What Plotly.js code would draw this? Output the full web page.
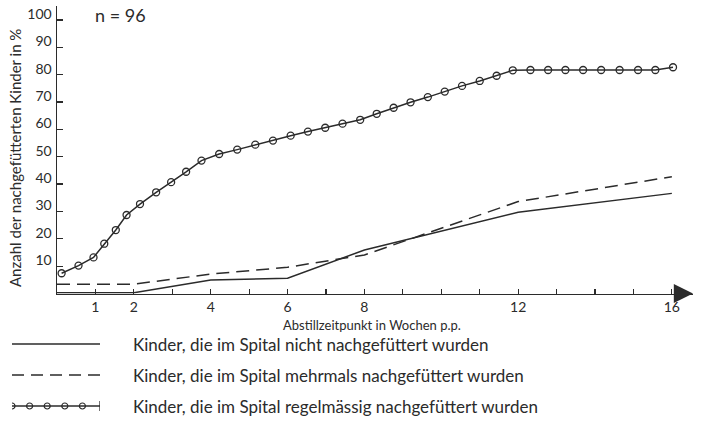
<!DOCTYPE html>
<html>
<head>
<meta charset="utf-8">
<script src="https://cdn.plot.ly/plotly-3.0.1.min.js"></script>
<style>html,body{margin:0;padding:0;background:#fff;}#chart{width:707px;height:439px;}</style>
</head>
<body>
<div id="chart"></div>
<script>
// ---- data ----
const seriesNames = [
  "Kinder, die im Spital nicht nachgefüttert wurden",
  "Kinder, die im Spital mehrmals nachgefüttert wurden",
  "Kinder, die im Spital regelmässig nachgefüttert wurden"
];
const weeksNicht = [0, 2, 4, 6, 8, 12, 16];
const valuesNicht = [0.3, 0.3, 4.9, 5.6, 15.9, 29.7, 36.6];
const weeksMehrmals = [0, 2, 4, 6, 8, 12, 16];
const valuesMehrmals = [3.4, 3.4, 7.1, 9.6, 14.1, 33.6, 42.7];
const weeksRegel = [0.12, 0.56, 0.95, 1.23, 1.53, 1.81, 2.16, 2.58, 2.97, 3.36, 3.76, 4.22, 4.69, 5.16, 5.62, 6.08, 6.53, 6.98, 7.43, 7.89, 8.32, 8.76, 9.20, 9.65, 10.09, 10.54, 11.0, 11.44, 11.86, 12.32, 12.78, 13.23, 13.69, 14.16, 14.64, 15.12, 15.57, 16.03];
const valuesRegel = [7.4, 10.2, 13.2, 18.2, 23.2, 28.7, 32.7, 37.0, 40.7, 44.5, 48.6, 51.0, 52.6, 54.4, 55.9, 57.7, 59.2, 60.6, 62.1, 63.5, 65.7, 67.9, 69.9, 71.8, 73.8, 75.9, 77.7, 79.6, 81.6, 81.7, 81.7, 81.7, 81.7, 81.7, 81.7, 81.7, 81.7, 82.7];
const xTickVals = [1, 2, 3, 4, 5, 6, 7, 8, 9, 10, 11, 12, 13, 14, 15, 16];
const xTickText = ["1", "2", "", "4", "", "6", "", "8", "", "", "", "12", "", "", "", "16"];
const yTickVals = [10, 20, 30, 40, 50, 60, 70, 80, 90, 100];
const xTitle = "Abstillzeitpunkt in Wochen p.p.";
const yTitle = "Anzahl der nachgefütterten Kinder in %";
const sampleNote = "n = 96";

// ---- layout helpers ----
const W = 707, H = 439;
const px = v => v / W;           // pixel -> paper x
const py = v => (H - v) / H;     // pixel -> paper y
const INK = '#2b2b2b';
const FONT = 'Lato, "Open Sans", sans-serif';

const xRange = [0, 16.55];
const yRange = [0, 105.1];

const traces = [
  {x: weeksNicht, y: valuesNicht, name: seriesNames[0], mode: 'lines',
   line: {color: INK, width: 1.5}, xaxis: 'x', yaxis: 'y', showlegend: false, cliponaxis: false},
  {x: weeksMehrmals, y: valuesMehrmals, name: seriesNames[1], mode: 'lines',
   line: {color: INK, width: 1.5, dash: '13px,7px'}, xaxis: 'x', yaxis: 'y', showlegend: false, cliponaxis: false},
  {x: weeksRegel, y: valuesRegel, name: seriesNames[2], mode: 'lines+markers',
   line: {color: INK, width: 1.5},
   marker: {symbol: 'circle-open', size: 7, color: INK, line: {width: 1.3, color: INK}},
   xaxis: 'x', yaxis: 'y', showlegend: false, cliponaxis: false},
  // legend key samples (drawn in a small key subplot)
  {x: [0, 1], y: [1, 1], mode: 'lines', line: {color: INK, width: 1.5},
   xaxis: 'x2', yaxis: 'y2', showlegend: false, hoverinfo: 'skip'},
  {x: [0, 1], y: [2, 2], mode: 'lines', line: {color: INK, width: 1.5, dash: '12px,7px'},
   xaxis: 'x2', yaxis: 'y2', showlegend: false, hoverinfo: 'skip'},
  {x: [0, 0.2, 0.4, 0.6, 0.8], y: [3, 3, 3, 3, 3], mode: 'markers',
   marker: {symbol: 'circle-open', size: 6, color: INK, line: {width: 1.2, color: INK}},
   xaxis: 'x2', yaxis: 'y2', showlegend: false, hoverinfo: 'skip'},
  {x: [0, 1], y: [3, 3], mode: 'lines', line: {color: INK, width: 1.5},
   xaxis: 'x2', yaxis: 'y2', showlegend: false, hoverinfo: 'skip'},
  {x: [1], y: [3], mode: 'markers',
   marker: {symbol: 'line-ns-open', size: 7, color: INK, line: {width: 1.3, color: INK}},
   xaxis: 'x2', yaxis: 'y2', showlegend: false, hoverinfo: 'skip'}
];

const annotations = [
  {xref: 'paper', yref: 'paper', x: px(93), y: py(15), xanchor: 'left', yanchor: 'middle',
   text: sampleNote, showarrow: false, font: {family: FONT, size: 18, color: INK}},
  {xref: 'paper', yref: 'paper', x: px(372), y: py(325), xanchor: 'center', yanchor: 'middle',
   text: xTitle, showarrow: false, font: {family: FONT, size: 13, color: INK}},
  {xref: 'paper', yref: 'paper', x: px(15), y: py(158), xanchor: 'center', yanchor: 'middle',
   text: yTitle, textangle: -90, showarrow: false, font: {family: FONT, size: 15, color: INK}},
  // axis arrow head
  {xref: 'x', yref: 'y', x: xRange[1], y: 0, ax: -20, ay: 0, axref: 'pixel', ayref: 'pixel',
   text: '', showarrow: true, arrowhead: 2, arrowsize: 2.4, arrowwidth: 1.6, arrowcolor: INK}
];
seriesNames.forEach((n, i) => {
  annotations.push({xref: 'paper', yref: 'y2', x: px(131), y: i + 1, xanchor: 'left', yanchor: 'middle',
    text: n, showarrow: false, font: {family: FONT, size: 17, color: INK}});
});

const layout = {
  width: W, height: H,
  margin: {l: 0, r: 0, t: 0, b: 0},
  paper_bgcolor: '#fff', plot_bgcolor: '#fff',
  font: {family: FONT, color: INK},
  showlegend: false,
  xaxis: {domain: [px(57), px(693)], range: xRange, anchor: 'y',
    showgrid: false, zeroline: false, showline: true, linecolor: INK, linewidth: 1.5,
    tickmode: 'array', tickvals: xTickVals, ticktext: xTickText,
    ticks: 'inside', ticklen: 5, tickwidth: 1.2, tickcolor: INK, ticklabelstandoff: 0,
    tickfont: {family: FONT, size: 14, color: INK}},
  xaxis3: {overlaying: 'x', matches: 'x', anchor: 'y', range: xRange,
    showgrid: false, zeroline: false, showline: false,
    tickmode: 'array', tickvals: xTickVals, showticklabels: false,
    ticks: 'outside', ticklen: 5, tickwidth: 1.2, tickcolor: INK},
  yaxis: {domain: [py(293.5), py(6)], range: yRange, anchor: 'x',
    showgrid: false, zeroline: false, showline: true, linecolor: INK, linewidth: 1.5,
    tickmode: 'array', tickvals: yTickVals,
    ticks: 'inside', ticklen: 6, tickwidth: 1.2, tickcolor: INK,
    ticklabelshift: -6, ticklabelstandoff: 1,
    tickfont: {family: FONT, size: 14, color: INK}},
  xaxis2: {domain: [px(12), px(100)], range: [0, 1], anchor: 'y2', visible: false, fixedrange: true},
  yaxis2: {domain: [py(421.5), py(328.5)], range: [3.5, 0.5], anchor: 'x2', visible: false, fixedrange: true},
  annotations: annotations
};

Plotly.newPlot('chart', traces, layout, {displayModeBar: false, staticPlot: true});
</script>
</body>
</html>
